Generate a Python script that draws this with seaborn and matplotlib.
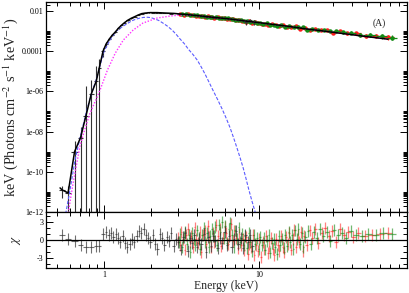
import numpy as np
import matplotlib
matplotlib.use("Agg")
import matplotlib.pyplot as plt
import matplotlib.ticker as mticker
import seaborn as sns
import pandas as pd

# ---------------- data ----------------
# model components (energy keV, E*F_E)
model_E = [0.52, 0.536, 0.586, 0.645, 0.705, 0.765, 0.825, 0.89, 0.93, 0.985, 1.03, 1.08, 1.13,
           1.18, 1.24, 1.30, 1.36, 1.43, 1.50, 1.58, 1.66, 1.75, 1.85, 2.0, 2.2, 2.5, 2.8, 3.1,
           4.0, 5.0, 6.0, 7.0, 8.0, 10.0, 12.0, 15.0, 20.0, 25.0, 30.0, 40.0, 50.0, 60.0, 68.0]
model_F = [1.58e-11, 1.26e-11, 8.9e-12, 1.0e-9, 5.0e-9, 6.3e-8, 7.1e-7, 3.2e-6, 1.41e-5, 1.0e-4,
           2.24e-4, 3.98e-4, 6.3e-4, 8.9e-4, 1.41e-3, 2.0e-3, 2.69e-3, 3.55e-3, 4.37e-3, 5.25e-3,
           6.3e-3, 7.4e-3, 7.9e-3, 8.3e-3, 8.3e-3, 7.9e-3, 7.6e-3, 7.1e-3, 5.9e-3, 4.9e-3, 4.27e-3,
           3.72e-3, 3.24e-3, 2.63e-3, 2.19e-3, 1.78e-3, 1.29e-3, 1.05e-3, 8.7e-4, 6.6e-4, 5.25e-4,
           4.47e-4, 3.94e-4]

bb_E = [0.565, 0.60, 0.65, 0.70, 0.77, 0.83, 0.90, 0.95, 1.0, 1.1, 1.2, 1.33, 1.5, 1.6, 1.71,
        1.8, 1.9, 2.0, 2.1, 2.25, 2.4, 2.57, 2.75, 2.92, 3.1, 3.3, 3.5, 3.75, 4.0, 4.25, 4.5,
        4.75, 5.05, 5.4, 5.8, 6.15, 6.5, 6.85, 7.2, 7.55, 7.9, 8.25, 8.6, 9.0, 9.4, 9.6]
bb_F = [8.0e-13, 1.0e-11, 3.98e-10, 5.0e-9, 1.0e-7, 7.9e-7, 5.0e-6, 2.5e-5, 1.0e-4, 3.98e-4,
        1.0e-3, 1.78e-3, 3.16e-3, 3.9e-3, 4.47e-3, 4.8e-3, 4.9e-3, 4.7e-3, 4.17e-3, 3.4e-3,
        2.5e-3, 1.74e-3, 1.12e-3, 6.9e-4, 3.98e-4, 2.34e-4, 1.26e-4, 6.8e-5, 3.55e-5, 1.58e-5,
        6.9e-6, 2.95e-6, 1.12e-6, 4.0e-7, 1.26e-7, 4.5e-8, 1.58e-8, 5.0e-9, 1.58e-9, 5.0e-10,
        1.58e-10, 4.5e-11, 1.26e-11, 3.55e-12, 1.12e-12, 6.3e-13]

comp_E = [0.585, 0.60, 0.63, 0.70, 0.75, 0.81, 0.90, 0.94, 1.05, 1.18, 1.33, 1.54, 1.78, 2.2,
          2.67, 3.1, 3.5, 4.0, 5.0, 6.0, 7.0, 8.0, 10.0, 12.0, 15.0, 20.0, 25.0, 30.0, 40.0,
          50.0, 60.0, 68.0]
comp_F = [6.3e-13, 2.5e-12, 2.5e-11, 2.0e-9, 1.26e-8, 7.9e-8, 5.0e-7, 1.12e-6, 1.12e-5, 7.9e-5,
          3.55e-4, 1.12e-3, 2.5e-3, 4.47e-3, 5.6e-3, 6.3e-3, 6.3e-3, 5.9e-3, 4.9e-3, 4.27e-3,
          3.72e-3, 3.24e-3, 2.63e-3, 2.19e-3, 1.78e-3, 1.29e-3, 1.05e-3, 8.7e-4, 6.6e-4,
          5.25e-4, 4.47e-4, 3.94e-4]

# soft X-ray spectrum (black)
blk_E = [0.536, 0.586, 0.645, 0.705, 0.765, 0.825, 0.89, 0.93, 0.985, 1.03,
         1.08, 1.13, 1.18, 1.24, 1.30, 1.36, 1.43, 1.50, 1.58, 1.66,
         1.75, 1.85, 1.95, 2.06, 2.18, 2.30, 2.43, 2.57, 2.72, 2.88,
         3.05, 3.23, 3.42, 3.62, 3.84, 4.07, 4.31, 4.57, 4.84, 5.13,
         5.44, 5.77, 6.12, 6.49, 6.88, 7.30, 7.74, 8.21, 8.71, 9.24]
blk_F = [1.3e-11, 8.9e-12, 1.0e-9, 5.0e-9, 6.3e-8, 7.1e-7, 3.2e-6, 1.4e-5, 1.0e-4, 2.3e-4,
         4.1e-4, 6.5e-4, 8.9e-4, 1.40e-3, 2.02e-3, 2.66e-3, 3.45e-3, 4.3e-3, 5.25e-3, 6.3e-3,
         7.4e-3, 8.1e-3, 8.6e-3, 8.4e-3, 8.3e-3, 8.2e-3, 8.1e-3, 7.8e-3, 7.4e-3, 7.8e-3,
         7.3e-3, 7.0e-3, 6.8e-3, 6.6e-3, 6.1e-3, 5.9e-3, 5.6e-3, 5.3e-3, 5.2e-3, 4.7e-3,
         4.6e-3, 4.5e-3, 4.3e-3, 4.2e-3, 3.8e-3, 3.6e-3, 3.5e-3, 2.8e-3, 3.4e-3, 2.9e-3]
blk_relerr = [0.6, 1.2, 2.5, 2.2, 30.0, 4.0, 5.0, 2.0, 0.5, 0.3,
              0.15, 0.1, 0.08, 0.06, 0.05, 0.05, 0.04, 0.04, 0.03, 0.03,
              0.03, 0.03, 0.03, 0.03, 0.03, 0.03, 0.03, 0.03, 0.03, 0.03,
              0.03, 0.03, 0.04, 0.04, 0.04, 0.04, 0.04, 0.04, 0.05, 0.05,
              0.05, 0.05, 0.06, 0.06, 0.07, 0.08, 0.1, 0.25, 0.15, 0.3]

# hard X-ray spectrum, module A (red)
red_E = [3.1, 3.3, 3.5, 3.7, 3.9, 4.1, 4.3, 4.5, 4.7, 4.9,
         5.15, 5.4, 5.65, 5.9, 6.2, 6.5, 6.8, 7.1, 7.45, 7.8,
         8.2, 8.6, 9.0, 9.45, 9.9, 10.4, 10.9, 11.5, 12.1, 12.8,
         13.5, 14.3, 15.2, 16.2, 17.3, 18.5, 19.8, 21.3, 23.0, 25.0,
         27.3, 30.0, 33.2, 37.0, 42.0, 49.0, 57.0, 68.0]
red_F = [7.1e-3, 6.6e-3, 6.7e-3, 6.3e-3, 5.7e-3, 5.9e-3, 5.85e-3, 5.3e-3, 5.5e-3, 5.0e-3,
         4.66e-3, 4.83e-3, 4.56e-3, 4.6e-3, 4.07e-3, 4.2e-3, 3.86e-3, 3.52e-3, 3.6e-3, 3.31e-3,
         2.94e-3, 3.1e-3, 2.66e-3, 2.7e-3, 2.46e-3, 2.18e-3, 2.36e-3, 2.07e-3, 2.2e-3, 1.92e-3,
         1.7e-3, 1.96e-3, 1.63e-3, 1.61e-3, 1.71e-3, 1.24e-3, 1.42e-3, 1.13e-3, 1.34e-3, 1.09e-3,
         1.11e-3, 8.1e-4, 9.7e-4, 7.9e-4, 7.7e-4, 5.8e-4, 5.6e-4, 5.0e-4]
red_relerr = [0.03, 0.03, 0.03, 0.03, 0.03, 0.03, 0.03, 0.03, 0.03, 0.03,
              0.03, 0.03, 0.03, 0.03, 0.03, 0.03, 0.03, 0.03, 0.03, 0.03,
              0.04, 0.04, 0.04, 0.05, 0.05, 0.05, 0.05, 0.05, 0.06, 0.06,
              0.06, 0.06, 0.07, 0.07, 0.08, 0.08, 0.09, 0.1, 0.1, 0.1,
              0.12, 0.12, 0.14, 0.15, 0.18, 0.2, 0.22, 0.25]

# hard X-ray spectrum, module B (green)
grn_E = [3.2, 3.4, 3.6, 3.8, 4.0, 4.2, 4.4, 4.6, 4.8, 5.0,
         5.28, 5.52, 5.78, 6.05, 6.35, 6.65, 6.95, 7.28, 7.62, 8.0,
         8.4, 8.8, 9.22, 9.68, 10.15, 10.65, 11.2, 11.8, 12.45, 13.15,
         13.9, 14.75, 15.7, 16.75, 17.9, 19.15, 20.5, 22.1, 24.0, 26.1,
         28.6, 31.5, 35.0, 39.5, 45.0, 52.0, 62.0, 72.0]
grn_F = [6.8e-3, 6.8e-3, 6.14e-3, 6.2e-3, 6.1e-3, 5.58e-3, 5.58e-3, 4.95e-3, 5.23e-3, 4.93e-3,
         4.95e-3, 4.44e-3, 4.72e-3, 4.34e-3, 4.4e-3, 4.08e-3, 3.7e-3, 3.77e-3, 3.44e-3, 3.11e-3,
         3.17e-3, 2.9e-3, 2.98e-3, 2.53e-3, 2.62e-3, 2.37e-3, 2.42e-3, 2.03e-3, 2.08e-3, 1.77e-3,
         1.96e-3, 1.67e-3, 1.84e-3, 1.52e-3, 1.56e-3, 1.59e-3, 1.14e-3, 1.34e-3, 1.11e-3, 1.2e-3,
         9.7e-4, 1.0e-3, 8.7e-4, 8.3e-4, 6.6e-4, 6.3e-4, 5.5e-4, 4.8e-4]
grn_relerr = [0.03, 0.03, 0.03, 0.03, 0.03, 0.03, 0.03, 0.03, 0.03, 0.03,
              0.03, 0.03, 0.03, 0.03, 0.03, 0.03, 0.03, 0.03, 0.03, 0.04,
              0.04, 0.04, 0.05, 0.05, 0.05, 0.05, 0.05, 0.06, 0.06, 0.06,
              0.06, 0.07, 0.07, 0.08, 0.08, 0.09, 0.1, 0.1, 0.1, 0.12,
              0.12, 0.14, 0.15, 0.18, 0.2, 0.22, 0.25, 0.28]

# residual panel (chi), finer bins
res_blk_E = [0.536, 0.586, 0.645, 0.705, 0.765, 0.825, 0.89, 0.93, 0.985, 1.03,
             1.07, 1.11, 1.15, 1.19, 1.23, 1.27, 1.32, 1.36, 1.41, 1.46,
             1.51, 1.57, 1.62, 1.68, 1.74, 1.80, 1.86, 1.93, 1.99, 2.06,
             2.14, 2.21, 2.29, 2.37, 2.45, 2.54, 2.63, 2.72, 2.81, 2.91,
             3.01, 3.12, 3.23, 3.34, 3.46, 3.58, 3.70, 3.83, 3.97, 4.11,
             4.25, 4.40, 4.55, 4.71, 4.88, 5.05, 5.22, 5.41, 5.60, 5.79,
             5.99, 6.20, 6.42, 6.65, 6.88, 7.12, 7.37, 7.63, 7.89, 8.17,
             8.46, 8.75, 9.06]
res_blk_chi = [0.8, 0.1, -0.2, -0.8, -1.2, -1.2, -1.0, -1.0, 1.0, 1.3,
               0.8, 1.2, 0.5, 1.0, 0.3, -0.3, 0.6, -0.5, -1.2, -0.7,
               0.2, -0.4, 0.6, 1.5, 1.2, 1.8, 0.9, 0.4, -0.3, 0.9,
               -0.6, -1.5, 1.0, 0.3, -0.8, 0.5, -0.2, 1.1, -1.0, 0.2,
               -0.4, -1.6, 0.5, 1.2, -1.8, 0.3, -0.5, 0.8, -1.2, 0.2,
               -0.6, 1.0, -2.0, 0.5, -1.0, 0.7, -0.2, -1.4, 0.4, -0.5,
               1.3, -0.9, 0.6, -1.1, 0.2, 1.5, -0.7, 0.4, -1.3, 0.9,
               -0.4, 0.8, -1.0]

res_red_E = [3.00, 3.08, 3.15, 3.23, 3.31, 3.39, 3.48, 3.56, 3.65, 3.74,
             3.84, 3.93, 4.03, 4.13, 4.24, 4.34, 4.45, 4.56, 4.68, 4.79,
             4.91, 5.04, 5.16, 5.29, 5.42, 5.56, 5.70, 5.84, 5.99, 6.14,
             6.29, 6.45, 6.61, 6.77, 6.94, 7.12, 7.29, 7.48, 7.66, 7.86,
             8.05, 8.26, 8.46, 8.67, 8.89, 9.11, 9.34, 9.58, 9.81, 10.06,
             10.31, 10.57, 10.83, 11.10, 11.38, 11.67, 11.96, 12.26, 12.56, 12.88,
             13.20, 13.53, 13.87, 14.21, 14.57, 14.93, 15.31, 15.69, 16.08, 16.48,
             16.90, 17.32, 17.75, 18.20, 18.65, 19.12, 19.60, 20.3, 21.2, 22.1,
             23.1, 24.2, 25.4, 26.7, 28.1, 29.6, 31.3, 33.2, 35.3, 37.7,
             40.5, 43.8, 48.0, 53.5, 60.0, 68.0]
res_red_chi = [0.4, -0.9, 1.3, 0.2, -1.6, 0.9, 1.8, -0.3, 0.6, -1.1,
               2.1, 0.1, -0.5, 1.4, -2.0, 0.8, 1.6, -0.7, 2.3, 0.5,
               -1.2, 1.2, -0.4, 2.5, 0.7, 1.9, -1.0, 0.3, 2.2, 1.1,
               -0.6, 0.9, 2.7, -0.2, 1.5, 0.4, -1.4, 1.0, -0.8, 0.2,
               -1.7, 0.5, -2.3, -0.6, -1.2, 0.8, -2.6, -0.9, -1.8, 0.1,
               -2.9, -0.4, -1.6, 0.6, -2.2, -1.0, 0.3, -1.5, -2.5, 0.2,
               -0.8, -1.9, 0.7, -1.1, -2.0, 0.5, -0.7, 1.2, -1.6, 0.1,
               1.7, -1.2, 0.9, -0.4, 1.4, -1.9, 0.6, -0.8, 1.6, 0.3,
               1.9, -0.5, 1.2, 2.0, 0.6, 1.5, -0.3, 1.8, 0.9, 1.4,
               0.5, 1.1, 0.7, 0.9, 1.0, 1.1]

res_grn_E = [3.04, 3.11, 3.19, 3.27, 3.35, 3.44, 3.52, 3.61, 3.70, 3.79,
             3.88, 3.98, 4.08, 4.18, 4.29, 4.40, 4.51, 4.62, 4.73, 4.85,
             4.97, 5.10, 5.23, 5.36, 5.49, 5.63, 5.77, 5.91, 6.06, 6.21,
             6.37, 6.53, 6.69, 6.86, 7.03, 7.20, 7.38, 7.57, 7.76, 7.95,
             8.15, 8.36, 8.56, 8.78, 9.00, 9.22, 9.46, 9.69, 9.94, 10.19,
             10.44, 10.70, 10.97, 11.24, 11.52, 11.81, 12.11, 12.41, 12.72, 13.04,
             13.37, 13.70, 14.04, 14.39, 14.75, 15.12, 15.50, 15.89, 16.28, 16.69,
             17.11, 17.54, 17.98, 18.42, 18.88, 19.36, 19.84, 20.7, 21.6, 22.6,
             23.6, 24.8, 26.0, 27.4, 28.9, 30.5, 32.2, 34.2, 36.5, 39.1,
             42.1, 45.9, 50.5, 56.5, 63.0, 72.0]
res_grn_chi = [-0.3, 1.0, -1.2, 0.5, 1.4, -0.6, 0.8, -2.0, 1.1, 0.2,
               -0.9, 1.6, 0.4, -1.5, 0.9, 2.0, -0.4, 1.2, -1.1, 0.6,
               1.8, 0.7, 2.2, -0.8, 2.6, 1.3, 3.0, 0.4, 2.4, -0.5,
               1.8, 2.9, 0.9, -1.2, 1.6, 0.2, 2.1, -0.3, 1.0, -0.9,
               0.6, -1.3, 1.1, -0.4, -1.8, 0.8, -0.7, 0.3, -1.5, 0.5,
               -0.9, 0.4, -1.6, -0.2, 0.9, -2.1, -0.5, 0.2, -1.2, -2.4,
               0.6, -0.8, 0.1, -1.4, 0.9, -1.0, 1.3, -0.3, 0.8, -1.5,
               1.6, 0.2, 1.9, -0.7, 1.1, -1.2, 0.5, 1.5, -0.6, 1.3,
               0.3, 1.8, 0.6, 1.4, -0.2, 1.7, 0.8, 1.2, 0.4, 1.5,
               0.8, 0.6, 1.0, 0.9, 1.1, 1.0]

y_ticks = [1e-2, 1e-4, 1e-6, 1e-8, 1e-10, 1e-12]
y_ticklabels = ["0.01", "0.0001", "1e-06", "1e-08", "1e-10", "1e-12"]
chi_ticks = [3, 0, -3]
chi_ticklabels = ["3", "0", "-3"]
x_ticks = [1, 10]
x_ticklabels = ["1", "10"]

# ---------------- styling ----------------
sns.set_theme(style="ticks")
plt.rcParams["font.family"] = ["Liberation Serif", "DejaVu Serif"]
plt.rcParams["mathtext.fontset"] = "stix"
plt.rcParams["axes.unicode_minus"] = False
plt.rcParams["axes.linewidth"] = 0.9

W, H = 409, 293
fig = plt.figure(figsize=(W / 100, H / 100), dpi=100)
left, right = 46 / W, 406.5 / W
ax = fig.add_axes([left, 1 - 212 / H, right - left, (212 - 1.7) / H])
axr = fig.add_axes([left, 1 - 268 / H, right - left, (268 - 212) / H], sharex=ax)


def halfwidths(E):
    E = np.asarray(E, float)
    mids = np.sqrt(E[1:] * E[:-1])
    lo = np.r_[E[0] ** 2 / mids[0], mids]
    hi = np.r_[mids, E[-1] ** 2 / mids[-1]]
    return np.vstack([E - lo, hi - E])


YMIN = 1e-12


def yerr_of(F, rel):
    F = np.asarray(F, float)
    r = np.asarray(rel, float)
    lo = np.maximum(F * (1 - r), YMIN * 0.01)
    return np.vstack([F - lo, F * r])


RED = "#ff1a1a"
GRN = "#138a13"

# upper panel: data
ax.errorbar(red_E, red_F, xerr=halfwidths(red_E), yerr=yerr_of(red_F, red_relerr),
            fmt="o", ms=2.2, color=RED, ecolor=RED, elinewidth=0.9, capsize=0, zorder=3)
ax.errorbar(grn_E, grn_F, xerr=halfwidths(grn_E), yerr=yerr_of(grn_F, grn_relerr),
            fmt="o", ms=2.2, color=GRN, ecolor=GRN, elinewidth=0.9, capsize=0, zorder=3.2)
ax.errorbar(blk_E, blk_F, xerr=halfwidths(blk_E), yerr=yerr_of(blk_F, blk_relerr),
            fmt="none", color="#222222", ecolor="#333333", elinewidth=0.8, capsize=0, zorder=3.4)

# models
df_tot = pd.DataFrame({"E": model_E, "F": model_F})
df_bb = pd.DataFrame({"E": bb_E, "F": bb_F})
df_cp = pd.DataFrame({"E": comp_E, "F": comp_F})
sns.lineplot(data=df_bb, x="E", y="F", ax=ax, color="#5b5bff", lw=0.8,
             linestyle=(0, (3, 1.5)), zorder=4)
sns.lineplot(data=df_cp, x="E", y="F", ax=ax, color="#ff33ff", lw=1.0,
             linestyle=(0, (1, 1.2)), zorder=4.2)
sns.lineplot(data=df_tot, x="E", y="F", ax=ax, color="black", lw=1.1, zorder=5)

ax.set_xscale("log")
ax.set_yscale("log")
ax.set_xlim(0.422, 89.5)
ax.set_ylim(YMIN, 0.029)
ax.set_xlabel("")
ax.set_ylabel("keV (Photons cm$^{-2}$ s$^{-1}$ keV$^{-1}$)", fontsize=10.3, labelpad=1)
ax.yaxis.set_major_locator(mticker.FixedLocator(y_ticks))
ax.yaxis.set_major_formatter(mticker.FixedFormatter(y_ticklabels))
minor_y = [k * 10.0 ** e for e in (-12, -10, -8, -6, -4, -2) for k in range(2, 10)] + \
          [10.0 ** e for e in (-11, -9, -7, -5, -3)]
ax.yaxis.set_minor_locator(mticker.FixedLocator(minor_y))
ax.yaxis.set_minor_formatter(mticker.NullFormatter())
fig.text(379 / W, 1 - 23 / H, "(A)", fontsize=7, ha="center", va="center")

# lower panel: residuals
axr.errorbar(res_red_E, res_red_chi, xerr=halfwidths(res_red_E), yerr=1, fmt="none",
             ecolor=RED, elinewidth=0.9, alpha=0.55, capsize=0, zorder=3)
axr.errorbar(res_grn_E, res_grn_chi, xerr=halfwidths(res_grn_E), yerr=1, fmt="none",
             ecolor=GRN, elinewidth=0.9, alpha=0.6, capsize=0, zorder=3.2)
axr.errorbar(res_blk_E, res_blk_chi, xerr=halfwidths(res_blk_E), yerr=1, fmt="none",
             ecolor="#333333", elinewidth=0.8, alpha=0.7, capsize=0, zorder=3.4)
axr.axhline(0, color="black", lw=0.9, zorder=5)
axr.set_ylim(-4.7, 4.7)
axr.yaxis.set_major_locator(mticker.FixedLocator(chi_ticks))
axr.yaxis.set_major_formatter(mticker.FixedFormatter(chi_ticklabels))
axr.yaxis.set_minor_locator(mticker.MultipleLocator(1))
axr.set_ylabel("$\\chi$", fontsize=9.5, labelpad=10, rotation=90)
axr.set_xlabel("Energy (keV)", fontsize=8.5, labelpad=1)
axr.xaxis.set_major_locator(mticker.FixedLocator(x_ticks))
axr.xaxis.set_major_formatter(mticker.FixedFormatter(x_ticklabels))
axr.xaxis.set_minor_locator(mticker.LogLocator(base=10, subs=range(2, 10), numticks=20))
axr.xaxis.set_minor_formatter(mticker.NullFormatter())

for a in (ax, axr):
    for s in a.spines.values():
        s.set_visible(True)
        s.set_color("black")
        s.set_linewidth(0.9)
    a.tick_params(which="both", direction="in", top=True, right=True, colors="black",
                  labelsize=5.8, pad=2, width=0.7)
    a.tick_params(which="major", length=5)
    a.tick_params(which="minor", length=3)
ax.tick_params(labelbottom=False)
ax.set_facecolor("white")
axr.set_facecolor("white")
fig.patch.set_facecolor("white")

fig.savefig("out.png", dpi=100, facecolor="white")
